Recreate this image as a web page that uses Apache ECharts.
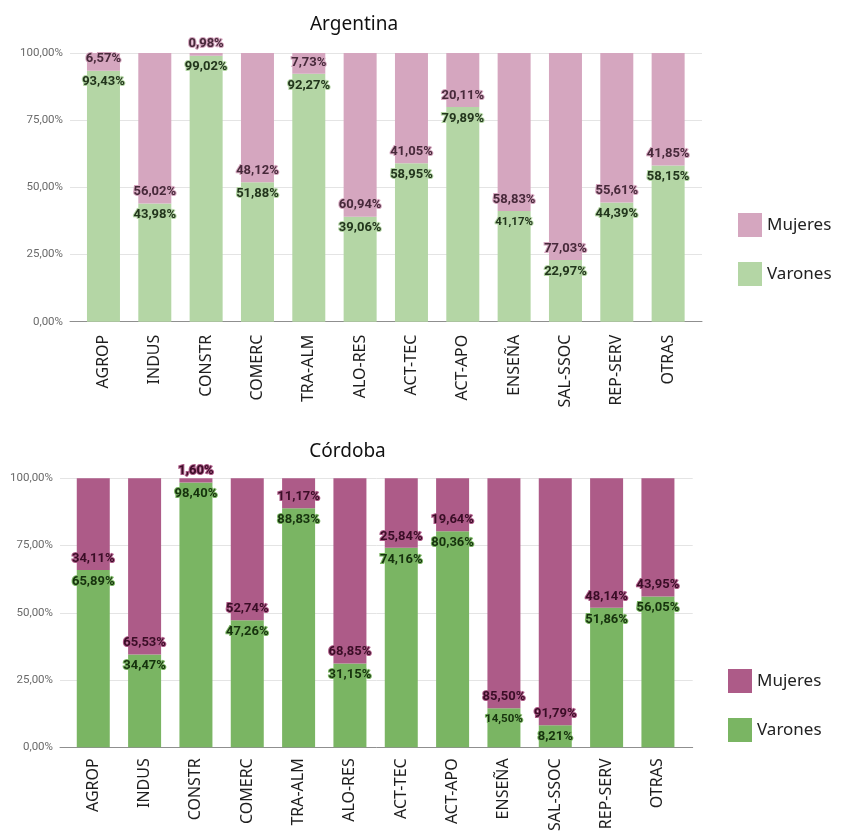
<!DOCTYPE html>
<html>
<head>
<meta charset="utf-8">
<title>Distribución por sexo según rama de actividad</title>
<script src="https://cdn.jsdelivr.net/npm/echarts@6/dist/echarts.min.js"></script>
<style>
  html, body { margin: 0; padding: 0; background: #ffffff; }
  #chart { width: 843px; height: 834px; }
</style>
</head>
<body>
<div id="chart"></div>
<script>
// Ramas de actividad
var categories = ['AGROP', 'INDUS', 'CONSTR', 'COMERC', 'TRA-ALM', 'ALO-RES',
                  'ACT-TEC', 'ACT-APO', 'ENSEÑA', 'SAL-SSOC', 'REP-SERV', 'OTRAS'];

// Argentina (% del total de ocupados de cada rama)
var argVarones = [93.43, 43.98, 99.02, 51.88, 92.27, 39.06, 58.95, 79.89, 41.17, 22.97, 44.39, 58.15];
var argMujeres = [6.57, 56.02, 0.98, 48.12, 7.73, 60.94, 41.05, 20.11, 58.83, 77.03, 55.61, 41.85];

// Córdoba
var cbaVarones = [65.89, 34.47, 98.40, 47.26, 88.83, 31.15, 74.16, 80.36, 14.50, 8.21, 51.86, 56.05];
var cbaMujeres = [34.11, 65.53, 1.60, 52.74, 11.17, 68.85, 25.84, 19.64, 85.50, 91.79, 48.14, 43.95];

// Marcas del eje de valores
var yTicks = [0, 25, 50, 75, 100];

var colors = {
  argMujeres: '#d5a6bf', argVarones: '#b4d6a5',
  cbaMujeres: '#ad5b88', cbaVarones: '#7ab563'
};
// Etiquetas con letra reducida (columna ENSEÑA, varones)
var compactIdx = [8];

function pct(v) { return v.toFixed(2).replace('.', ',') + '%'; }

var FONT = "'Noto Sans', sans-serif";
var LABEL_FONT = "Roboto, sans-serif";

function bgAxes(gridIndex) {
  return {
    x: {
      gridIndex: gridIndex, type: 'value', min: 0, max: 1,
      axisLabel: { show: false }, axisTick: { show: false }, splitLine: { show: false },
      axisLine: { show: true, lineStyle: { color: '#8f8f8f', width: 1 } }
    },
    y: {
      gridIndex: gridIndex, type: 'value', min: yTicks[0], max: yTicks[yTicks.length - 1],
      interval: yTicks[1] - yTicks[0],
      axisLine: { show: false }, axisTick: { show: false },
      splitLine: { show: true, lineStyle: { color: '#e4e4e4', width: 1 } },
      axisLabel: {
        margin: 7, fontSize: 11.5, color: '#6a6a6a', fontFamily: LABEL_FONT,
        formatter: function (v) { return pct(v); }
      }
    }
  };
}

function barAxes(gridIndex, margin) {
  return {
    x: {
      gridIndex: gridIndex, type: 'category', data: categories,
      axisLine: { show: false }, axisTick: { show: false },
      axisLabel: { rotate: 90, margin: margin, fontSize: 16, color: '#1e1e1e', fontFamily: FONT, interval: 0 }
    },
    y: {
      gridIndex: gridIndex, type: 'value', min: 0, max: 100, show: false,
      splitLine: { show: false }
    }
  };
}

function seriesPair(prefix, varones, mujeres, xi, yi, cV, cM, tV, tM) {
  function labelled(values, compact) {
    return values.map(function (v, i) {
      var item = { value: v };
      if (compact && compactIdx.indexOf(i) >= 0) item.label = { fontSize: 11.5 };
      return item;
    });
  }
  return [
    {
      name: 'Varones', type: 'bar', stack: prefix, xAxisIndex: xi, yAxisIndex: yi,
      barWidth: 33, itemStyle: { color: cV },
      data: labelled(varones, true),
      label: {
        show: true, position: 'insideTop', distance: 5,
        fontFamily: LABEL_FONT, fontSize: 13, fontWeight: 'bold',
        color: tV, textBorderColor: cV, textBorderWidth: 2,
        formatter: function (p) { return pct(p.value); }
      }
    },
    {
      name: 'Mujeres', type: 'bar', stack: prefix, xAxisIndex: xi, yAxisIndex: yi,
      barWidth: 33, itemStyle: { color: cM },
      data: labelled(mujeres, false),
      label: {
        show: true, position: 'insideBottom', distance: 5,
        fontFamily: LABEL_FONT, fontSize: 13, fontWeight: 'bold',
        color: tM, textBorderColor: cM, textBorderWidth: 2,
        formatter: function (p) { return pct(p.value); }
      }
    }
  ];
}

var bgTop = bgAxes(0), barTop = barAxes(1, 13);
var bgBot = bgAxes(2), barBot = barAxes(3, 11);

var legendCommon = {
  orient: 'vertical', padding: 0, itemWidth: 24, itemHeight: 24, itemGap: 25,
  icon: 'rect', selectedMode: false,
  textStyle: { fontSize: 17, color: '#222', fontFamily: FONT }
};

var option = {
  animation: false,
  backgroundColor: '#ffffff',
  grid: [
    { left: 70, top: 53, width: 632, height: 268.7, containLabel: false },
    { left: 77.8, top: 53, width: 616, height: 268.7, containLabel: false },
    { left: 60, top: 478.3, width: 632.7, height: 269, containLabel: false },
    { left: 67.6, top: 478.3, width: 616, height: 269, containLabel: false }
  ],
  xAxis: [bgTop.x, barTop.x, bgBot.x, barBot.x],
  yAxis: [bgTop.y, barTop.y, bgBot.y, barBot.y],
  legend: [
    Object.assign({}, legendCommon, {
      left: 738, top: 213,
      data: [
        { name: 'Mujeres', itemStyle: { color: colors.argMujeres } },
        { name: 'Varones', itemStyle: { color: colors.argVarones } }
      ]
    }),
    Object.assign({}, legendCommon, {
      left: 728, top: 669,
      data: [
        { name: 'Mujeres', itemStyle: { color: colors.cbaMujeres } },
        { name: 'Varones', itemStyle: { color: colors.cbaVarones } }
      ]
    })
  ],
  graphic: [
    { type: 'text', x: 354, y: 25, style: { text: 'Argentina', font: '19px ' + FONT, fill: '#111', align: 'center', verticalAlign: 'middle' } },
    { type: 'text', x: 347.5, y: 452, style: { text: 'Córdoba', font: '19px ' + FONT, fill: '#111', align: 'center', verticalAlign: 'middle' } }
  ],
  series: [].concat(
    seriesPair('arg', argVarones, argMujeres, 1, 1, colors.argVarones, colors.argMujeres, '#22351c', '#47293a'),
    seriesPair('cba', cbaVarones, cbaMujeres, 3, 3, colors.cbaVarones, colors.cbaMujeres, '#16320d', '#3a0d26')
  )
};

var chart = echarts.init(document.getElementById('chart'), null, { renderer: 'canvas' });
chart.setOption(option);
</script>
</body>
</html>
